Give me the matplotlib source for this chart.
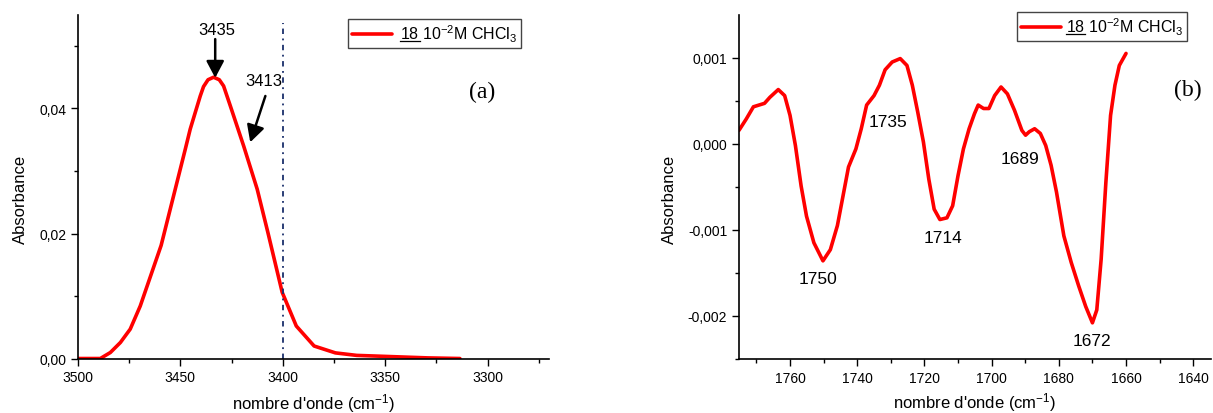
import numpy as np
import matplotlib
matplotlib.use('Agg')
import matplotlib.pyplot as plt
from matplotlib.ticker import FixedLocator, MultipleLocator
from matplotlib.lines import Line2D

plt.rcParams['font.family'] = ['Liberation Sans', 'DejaVu Sans']
plt.rcParams['mathtext.fontset'] = 'custom'
plt.rcParams['mathtext.rm'] = 'Liberation Sans'
plt.rcParams['mathtext.it'] = 'Liberation Sans:italic'
plt.rcParams['mathtext.bf'] = 'Liberation Sans:bold'

# (a) OH stretching band
waveA = [3500, 3489.1, 3484.2, 3479.3, 3474.5, 3469.6, 3459.4, 3447.6, 3445.2, 3440.3,
         3438.7, 3436.5, 3433.8, 3431.0, 3428.9, 3425.6, 3419.1, 3412.5, 3407.3, 3400.3,
         3393.4, 3384.7, 3374.3, 3363.9, 3346.5, 3329.2, 3313.5]
absA = [0.0, 0.0, 0.00096, 0.00256, 0.0047, 0.0084, 0.0181, 0.0335, 0.0367, 0.0420,
        0.0435, 0.0446, 0.0450, 0.0446, 0.0436, 0.0404, 0.0340, 0.0271, 0.0202, 0.0106,
        0.0052, 0.0020, 0.0009, 0.0005, 0.0003, 0.0001, 0.0]

# (b) carbonyl region
waveB = [1775.2, 1773.0, 1770.9, 1767.6, 1766.0, 1763.5, 1761.6, 1760.0, 1758.4, 1756.7,
         1755.1, 1752.9, 1750.2, 1748.0, 1745.9, 1744.2, 1742.6, 1740.4, 1738.8, 1737.2,
         1735.0, 1733.4, 1731.7, 1729.6, 1727.2, 1725.2, 1723.6, 1722.0, 1720.3, 1718.7,
         1717.1, 1715.4, 1713.3, 1711.6, 1710.0, 1708.4, 1706.7, 1705.1, 1704.0, 1702.4,
         1700.8, 1699.1, 1697.2, 1695.3, 1693.2, 1691.0, 1689.9, 1688.8, 1687.2, 1685.5,
         1683.9, 1682.3, 1680.7, 1678.5, 1676.3, 1674.1, 1672.0, 1670.0, 1668.7, 1667.4,
         1666.0, 1664.6, 1663.3, 1662.0, 1660.0]
absB = [0.000156, 0.00029, 0.00043, 0.00047, 0.00054, 0.00063, 0.00056, 0.00033, -0.00002, -0.00049,
        -0.00084, -0.00115, -0.00136, -0.00123, -0.00095, -0.0006, -0.00027, -0.00006, 0.000175, 0.00045,
        0.00056, 0.00068, 0.00086, 0.00095, 0.00099, 0.00091, 0.00068, 0.00037, 0.00002, -0.00041,
        -0.00076, -0.00088, -0.00086, -0.00072, -0.00037, -0.00006, 0.000175, 0.00035, 0.00045, 0.00041,
        0.00041, 0.00056, 0.00066, 0.00058, 0.00039, 0.000156, 0.0001, 0.00014, 0.000175, 0.00012,
        -0.00002, -0.00025, -0.00056, -0.00107, -0.00138, -0.00165, -0.00189, -0.00208, -0.00193, -0.00134,
        -0.00045, 0.00033, 0.00068, 0.00091, 0.00105]

ticksA_x = [3500, 3450, 3400, 3350, 3300]
ticksA_y = [0.0, 0.02, 0.04]
tickLabelsA_y = ['0,00', '0,02', '0,04']
ticksB_x = [1760, 1740, 1720, 1700, 1680, 1660, 1640]
ticksB_y = [-0.002, -0.001, 0.0, 0.001]
tickLabelsB_y = ['-0,002', '-0,001', '0,000', '0,001']

peaksA = ['3435', '3413']
peaksB = ['1750', '1735', '1714', '1689', '1672']
legendLabel = '18 10$^{-2}$M CHCl$_3$'
xLabel = "nombre d'onde (cm$^{-1}$)"
yLabel = 'Absorbance'


def StyleAxes(ax):
    ax.spines['top'].set_visible(False)
    ax.spines['right'].set_visible(False)
    for s in ['left', 'bottom']:
        ax.spines[s].set_linewidth(1.2)
    ax.tick_params(which='major', length=5, width=1, labelsize=10, direction='out', pad=3.5)
    ax.tick_params(which='minor', length=3, width=1, direction='out')
    ax.set_xlabel(xLabel, fontsize=12, va='baseline')
    ax.set_ylabel(yLabel, fontsize=12, va='center')


def AddLegend(ax, anchor, textPad):
    leg = ax.legend(loc='upper left', bbox_to_anchor=anchor, borderaxespad=0,
                    fancybox=False, edgecolor='#444444', framealpha=1,
                    handlelength=2.5, handletextpad=textPad, borderpad=0.25, fontsize=11.5)
    leg.get_frame().set_linewidth(1.0)
    return leg


fig = plt.figure(figsize=(12.13, 4.14), dpi=100)
axA = fig.add_axes([0.0643, 0.1316, 0.3883, 0.8304])
axB = fig.add_axes([0.6092, 0.1305, 0.3889, 0.8316])

# ---- panel (a)
axA.plot(waveA, absA, color='#ff0000', lw=2.6, label=legendLabel,
         solid_capstyle='round', solid_joinstyle='round')
axA.plot([3400, 3400], [0, 0.0536], color='#1a2f6b', lw=1.3, dashes=(3, 2.5, 1, 2.5))
axA.set_xlim(3500, 3270)
axA.set_ylim(0, 0.055)
StyleAxes(axA)
axA.xaxis.set_major_locator(FixedLocator(ticksA_x))
axA.xaxis.set_minor_locator(MultipleLocator(50, offset=25))
axA.set_yticks(ticksA_y, tickLabelsA_y)
axA.yaxis.set_minor_locator(FixedLocator([0.01, 0.03, 0.05]))
axA.xaxis.set_label_coords(0.5, -0.144)
axA.yaxis.set_label_coords(-0.123, 0.467)

arrowStyle = dict(arrowstyle='-|>,head_length=0.85,head_width=0.45', color='k', lw=1.8,
                  shrinkA=0, shrinkB=0, mutation_scale=12)
axA.text(3432.3, 0.0527, peaksA[0], fontsize=12, ha='center', va='center')
axA.annotate('', xy=(3433, 0.0449), xytext=(3433, 0.0511), arrowprops=arrowStyle)
axA.text(3409.4, 0.0444, peaksA[1], fontsize=12, ha='center', va='center')
axA.annotate('', xy=(3415.9, 0.0346), xytext=(3408.5, 0.0420), arrowprops=arrowStyle)
axA.text(0.857, 0.778, '(a)', transform=axA.transAxes, fontsize=17, ha='center', va='center',
         family='Liberation Serif')
legA = AddLegend(axA, (0.573, 0.9875), 0.5)

# ---- panel (b)
axB.plot(waveB, absB, color='#ff0000', lw=2.6, label=legendLabel,
         solid_capstyle='round', solid_joinstyle='round')
axB.set_xlim(1775.2, 1634.8)
axB.set_ylim(-0.0025, 0.0015)
StyleAxes(axB)
axB.xaxis.set_major_locator(FixedLocator(ticksB_x))
axB.xaxis.set_minor_locator(MultipleLocator(20, offset=10))
axB.set_yticks(ticksB_y, tickLabelsB_y)
axB.yaxis.set_minor_locator(FixedLocator([-0.0025, -0.0015, -0.0005, 0.0005]))
axB.xaxis.set_label_coords(0.5, -0.142)
axB.yaxis.set_label_coords(-0.147, 0.467)

labelPosB = [(1751.6, -0.00157), (1730.7, 0.00026), (1714.6, -0.00109),
             (1691.5, -0.000175), (1670.1, -0.00228)]
for lab, (px, py) in zip(peaksB, labelPosB):
    axB.text(px, py, lab, fontsize=12.5, ha='center', va='center')
axB.text(0.951, 0.784, '(b)', transform=axB.transAxes, fontsize=17, ha='center', va='center',
         family='Liberation Serif')
legB = AddLegend(axB, (0.589, 1.008), 0.3)

# underline "18" in both legend entries
fig.canvas.draw()
renderer = fig.canvas.get_renderer()
for leg in [legA, legB]:
    t = leg.get_texts()[0]
    bb = t.get_window_extent(renderer)
    prop = t.get_fontproperties()
    w, h, d = renderer.get_text_width_height_descent(t.get_text(), prop, ismath=True)
    w18, h18, d18 = renderer.get_text_width_height_descent('18', prop, ismath=False)
    yBase = bb.y0 + d - 1.5
    (x0, y0), (x1, y1) = fig.transFigure.inverted().transform([(bb.x0, yBase), (bb.x0 + w18 + 2, yBase)])
    fig.add_artist(Line2D([x0, x1], [y0, y1], color='k', lw=0.9, transform=fig.transFigure))

fig.savefig('out.png', dpi=100)
